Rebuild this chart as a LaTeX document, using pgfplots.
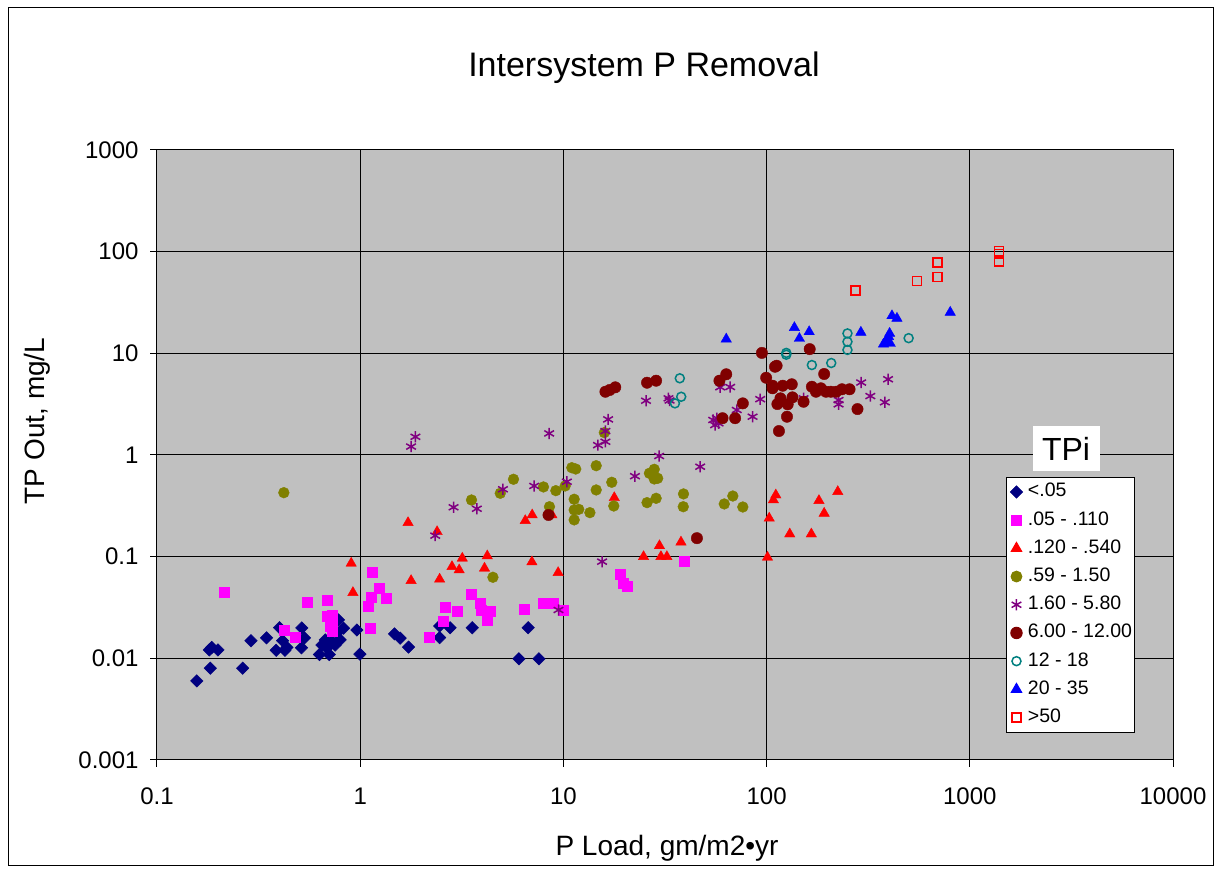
\documentclass[border=0pt]{standalone}
\usepackage{fontspec}
\setmainfont{Liberation Sans}
\usepackage{pgfplots}
\pgfplotsset{compat=1.18}
\definecolor{plotgray}{HTML}{C0C0C0}
\definecolor{cnavy}{HTML}{000080}
\definecolor{cmag}{HTML}{FF00FF}
\definecolor{cred}{HTML}{FF0000}
\definecolor{colive}{HTML}{808000}
\definecolor{cpurp}{HTML}{800080}
\definecolor{cdred}{HTML}{800000}
\definecolor{cteal}{HTML}{008080}
\definecolor{cblue}{HTML}{0000FF}
\begin{document}
\begin{tikzpicture}
\useasboundingbox (0pt,0pt) rectangle (1221pt,872pt);
\fill[white] (0pt,0pt) rectangle (1221pt,872pt);
\draw[black, line width=1pt] (8pt,6pt) rectangle (1213pt,864pt);
\begin{axis}[
  at={(157pt,112pt)}, anchor=south west,
  scale only axis, width=1016pt, height=610pt,
  xmode=log, ymode=log,
  xmin=0.1, xmax=10000, ymin=0.001, ymax=1000,
  axis background/.style={fill=plotgray},
  axis line style={black, line width=1pt},
  grid=major, major grid style={black, line width=1pt},
  xminorticks=false, yminorticks=false,
  xtick={0.1,1,10,100,1000,10000},
  xticklabels={0.1,1,10,100,1000,10000},
  ytick={0.001,0.01,0.1,1,10,100,1000},
  yticklabels={0.001,0.01,0.1,1,10,100,1000},
  xtick pos=bottom, ytick pos=left,
  tick align=outside, major tick length=7pt,
  tick style={black, line width=1pt},
  tick label style={font=\fontsize{24}{24}\selectfont},
  xticklabel style={yshift=-17pt},
  yticklabel style={xshift=-8pt},
  legend style={at={(0.8356,0.464)}, anchor=north west, draw=black, fill=white, line width=1pt,
    font=\fontsize{19.5}{22}\selectfont, row sep=7.2pt, inner xsep=1pt, inner ysep=4pt,
    nodes={inner sep=1.5pt, text height=14pt, text depth=4pt}},
  legend cell align=left,
  legend image code/.code={\path[draw=none, fill=none] (0pt,-1pt) rectangle (19pt,1pt); \draw[#1, only marks] plot coordinates {(9pt,0pt)};},
]
% <.05
\addplot[only marks, mark=square*, mark size=4.4pt, mark options={rotate=45, fill=cnavy, draw=cnavy, line width=0.5pt}, color=cnavy] coordinates {
(0.157,0.0060) (0.183,0.0080) (0.264,0.0080) (0.186,0.0128) (0.181,0.0121) (0.1995,0.0121)
(0.290,0.0149) (0.346,0.0159) (0.401,0.0200) (0.415,0.0149) (0.386,0.0120) (0.426,0.0120)
(0.436,0.0128) (0.516,0.0199) (0.532,0.0159) (0.514,0.0127) (0.630,0.0109) (0.704,0.0109)
(0.782,0.0239) (0.828,0.0198) (0.768,0.0177) (0.726,0.0146) (0.673,0.0152) (0.648,0.0135)
(0.686,0.0126) (0.753,0.0135) (0.797,0.0152) (0.963,0.0190) (0.997,0.0110) (1.475,0.0174)
(1.573,0.0158) (1.729,0.0129) (2.46,0.0208) (2.77,0.0200) (2.46,0.0160) (3.56,0.0200)
(6.71,0.0200) (6.04,0.0099) (7.58,0.0099)
};
\addlegendentry{<.05}
% .05-.110
\addplot[only marks, mark=square*, mark size=5pt, color=cmag, mark options={fill=cmag, draw=cmag}] coordinates {
(0.214,0.0447) (0.547,0.0356) (0.686,0.0375) (0.686,0.0257) (0.726,0.0267) (0.726,0.0221)
(0.726,0.0183) (0.712,0.0205) (0.424,0.0190) (0.481,0.0160) (1.14,0.0697) (1.245,0.0489)
(1.13,0.0399) (1.09,0.0328) (1.34,0.0390) (1.12,0.0198) (3.52,0.0430) (3.90,0.0348)
(3.93,0.0299) (4.36,0.0288) (4.23,0.0239) (2.63,0.0318) (3.01,0.0288) (2.57,0.0233)
(2.19,0.0160) (6.44,0.0306) (7.98,0.0348) (8.87,0.0348) (9.94,0.0299) (39.4,0.0893)
(19.0,0.0676) (19.8,0.0547) (20.5,0.0507)
};
\addlegendentry{.05 - .110}
% .120-.540
\addplot[only marks, mark=triangle*, mark size=6pt, color=cred, mark options={fill=cred, draw=cred}] coordinates {
(0.903,0.0861) (0.921,0.0443) (1.72,0.216) (2.39,0.176) (3.18,0.0964) (2.83,0.0797)
(3.07,0.0740) (4.22,0.1016) (4.09,0.0769) (1.78,0.0581) (2.46,0.060) (6.49,0.226)
(7.02,0.257) (7.00,0.0887) (9.42,0.0696) (8.78,0.257) (17.8,0.380) (103,0.239)
(108,0.361) (111,0.404) (29.7,0.128) (37.9,0.139) (24.8,0.100) (30.2,0.100)
(32.3,0.100) (101,0.0986) (181,0.356) (224,0.436) (192,0.267) (130,0.167) (166,0.167)
};
\addlegendentry{.120 - .540}
% .59-1.50
\addplot[only marks, mark=*, mark size=5.4pt, color=colive, mark options={fill=colive, draw=colive}] coordinates {
(0.421,0.426) (3.53,0.361) (4.89,0.420) (5.68,0.577) (7.98,0.485) (9.18,0.446)
(10.2,0.496) (11.0,0.750) (11.5,0.728) (14.5,0.785) (14.5,0.453) (11.3,0.367)
(8.54,0.310) (11.3,0.288) (11.9,0.292) (13.5,0.271) (11.3,0.230) (4.50,0.0627)
(17.3,0.539) (15.9,1.66) (26.5,0.661) (28.0,0.723) (28.0,0.581) (29.1,0.590)
(17.7,0.315) (25.8,0.340) (28.6,0.375) (39.0,0.414) (38.9,0.310) (61.9,0.330)
(68.2,0.395) (76.4,0.308)
};
\addlegendentry{.59 - 1.50}
% 1.60-5.80
\addplot[only marks, mark=asterisk, mark size=5.6pt, color=cpurp, mark options={draw=cpurp, line width=1.5pt}] coordinates {
(1.87,1.51) (1.78,1.21) (8.51,1.63) (14.8,1.25) (2.88,0.306) (3.75,0.296)
(5.04,0.460) (7.18,0.496) (10.4,0.546) (2.34,0.161) (15.5,0.0893) (16.6,2.24)
(16.1,1.72) (16.1,1.35) (29.6,0.977) (22.5,0.619) (47.1,0.767) (25.5,3.42)
(32.9,3.61) (33.3,3.44) (59.1,4.64) (66.2,4.66) (71.3,2.77) (85.3,2.38)
(54.6,2.21) (55.8,1.97) (58.0,2.05) (56.9,2.30) (93.0,3.54) (152,3.61)
(226,3.47) (226,3.15) (292,5.16) (324,3.80) (396,5.56) (382,3.30) (9.46,0.0299)
};
\addlegendentry{1.60 - 5.80}
% 6.00-12.00
\addplot[only marks, mark=*, mark size=5.7pt, color=cdred, mark options={fill=cdred, draw=cdred}] coordinates {
(16.1,4.19) (16.9,4.36) (18.0,4.63) (25.8,5.14) (28.6,5.38) (58.6,5.38)
(63.3,6.22) (76.4,3.22) (60.7,2.30) (70.0,2.30) (94.8,10.1) (110,7.38)
(112,7.55) (99.5,5.75) (107,4.80) (107,4.53) (120,4.80) (133,4.96)
(117,3.61) (134,3.69) (113,3.17) (127,3.15) (152,3.34) (126,2.38)
(115,1.72) (163,11.0) (192,6.26) (167,4.69) (175,4.19) (185,4.53)
(196,4.19) (207,4.19) (220,4.19) (235,4.43) (256,4.43) (280,2.83)
(8.45,0.257) (45.4,0.152)
};
\addlegendentry{6.00 - 12.00}
% 12-18
\addplot[only marks, mark=o, mark size=4.5pt, color=cteal, mark options={draw=cteal, line width=1.5pt}] coordinates {
(37.4,5.68) (38.0,3.74) (35.4,3.22) (125,10.1) (125,9.69) (167,7.67)
(208,8.03) (250,15.7) (250,13.0) (250,10.8) (500,14.1)
};
\addlegendentry{12 - 18}
% 20-35
\addplot[only marks, mark=triangle*, mark size=6pt, color=cblue, mark options={fill=cblue, draw=cblue}] coordinates {
(63.3,13.8) (137,17.9) (145,14.0) (162,16.3) (291,16.1) (414,23.4)
(438,22.1) (403,15.7) (398,14.6) (376,12.3) (406,12.5) (389,13.5) (801,25.3)
};
\addlegendentry{20 - 35}
% >50
\addplot[only marks, mark=square, mark size=4.5pt, color=cred, mark options={draw=cred, line width=1.5pt}] coordinates {
(274,41.6) (549,51.4) (694,78.5) (694,56.6) (1390,102) (1390,94.7) (1390,79.6)
};
\addlegendentry{>50}
\end{axis}
\node[font=\fontsize{34}{34}\selectfont] at (644pt,804pt) {Intersystem P Removal};
\node[font=\fontsize{28}{28}\selectfont] at (667pt,24pt) {P Load, gm/m2•yr};
\node[font=\fontsize{28}{28}\selectfont, rotate=90] at (37pt,451pt) {TP Out, mg/L};
\node[fill=white, font=\fontsize{32}{32}\selectfont, minimum width=67pt, minimum height=45pt, inner sep=0pt] at (1066pt,423pt) {TPi};
\end{tikzpicture}
\end{document}
